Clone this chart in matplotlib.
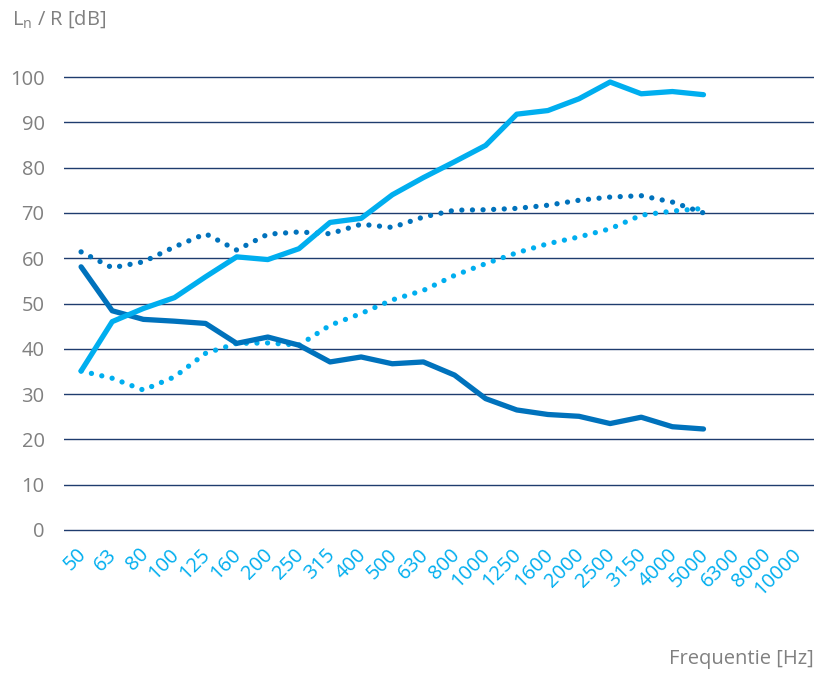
import numpy as np
import matplotlib
matplotlib.use("Agg")
import matplotlib.pyplot as plt
from matplotlib.transforms import ScaledTranslation

plt.rcParams['font.family'] = ['Open Sans', 'DejaVu Sans']

# Data
freqs = ["50", "63", "80", "100", "125", "160", "200", "250", "315", "400",
         "500", "630", "800", "1000", "1250", "1600", "2000", "2500", "3150",
         "4000", "5000", "6300", "8000", "10000"]
ln_solid = [35.1, 46.0, 48.9, 51.3, 55.9, 60.3, 59.7, 62.1, 67.9, 68.8,
            74.0, 77.8, 81.3, 84.9, 91.8, 92.6, 95.2, 98.9, 96.3, 96.8, 96.1]
r_solid = [58.1, 48.4, 46.5, 46.1, 45.6, 41.2, 42.6, 40.8, 37.1, 38.2,
           36.7, 37.1, 34.2, 29.0, 26.5, 25.5, 25.1, 23.5, 24.9, 22.8, 22.3]
dark_dotted = [61.4, 57.9, 59.2, 62.5, 65.4, 61.8, 65.3, 65.8, 65.4, 67.5,
               66.8, 69.1, 70.6, 70.7, 71.0, 71.7, 72.8, 73.5, 73.8, 72.4, 70.0]
light_dotted = [35.1, 33.5, 30.9, 33.8, 39.0, 41.2, 41.3, 40.8, 45.2, 47.8,
                50.8, 52.9, 56.2, 58.8, 61.2, 63.2, 64.7, 66.5, 69.5, 70.4, 71.0]
yticks = list(range(0, 101, 10))

light = '#00aeef'
dark = '#0072bc'
grid_c = '#1f3c6e'
grey = '#808080'
fs = 14.5

fig = plt.figure(figsize=(8.16, 6.75), dpi=100)
ax = fig.add_axes([0.0784, 0.2014, 0.9191, 0.6979])

x = np.arange(len(ln_solid))
for yv in yticks:
    ax.axhline(yv, color=grid_c, linewidth=1.0, zorder=1)

ax.plot(x, light_dotted, color=light, linewidth=3.8, linestyle=(0, (0.01, 2.0)),
        dash_capstyle='round', zorder=3)
ax.plot(x, dark_dotted, color=dark, linewidth=3.8, linestyle=(0, (0.01, 2.0)),
        dash_capstyle='round', zorder=3)
ax.plot(x, r_solid, color=dark, linewidth=3.8, solid_capstyle='round',
        solid_joinstyle='round', zorder=4)
ax.plot(x, ln_solid, color=light, linewidth=3.8, solid_capstyle='round',
        solid_joinstyle='round', zorder=5)

ax.set_xlim(-0.55, 23.55)
ax.set_ylim(-2, 102)
for s in ax.spines.values():
    s.set_visible(False)

ax.set_yticks(yticks)
ax.set_yticklabels([str(v) for v in yticks], fontsize=fs, color=grey)
ax.tick_params(axis='y', length=0, pad=14)

ax.set_xticks(np.arange(len(freqs)))
ax.set_xticklabels(freqs, rotation=45, ha='right', va='top', fontsize=fs,
                   color=light)
ax.tick_params(axis='x', length=0, pad=4)
off = ScaledTranslation(9 / 100, 0, fig.dpi_scale_trans)
for lab in ax.get_xticklabels():
    lab.set_transform(lab.get_transform() + off)

fig.text(12 / 816, 1 - 19 / 675, r'L$_\mathregular{n}$ / R [dB]', fontsize=fs,
         color=grey, va='center', ha='left')
fig.text(814 / 816, 1 - 659 / 675, 'Frequentie [Hz]', fontsize=fs,
         color=grey, va='center', ha='right')

fig.savefig('out.png', dpi=100)
